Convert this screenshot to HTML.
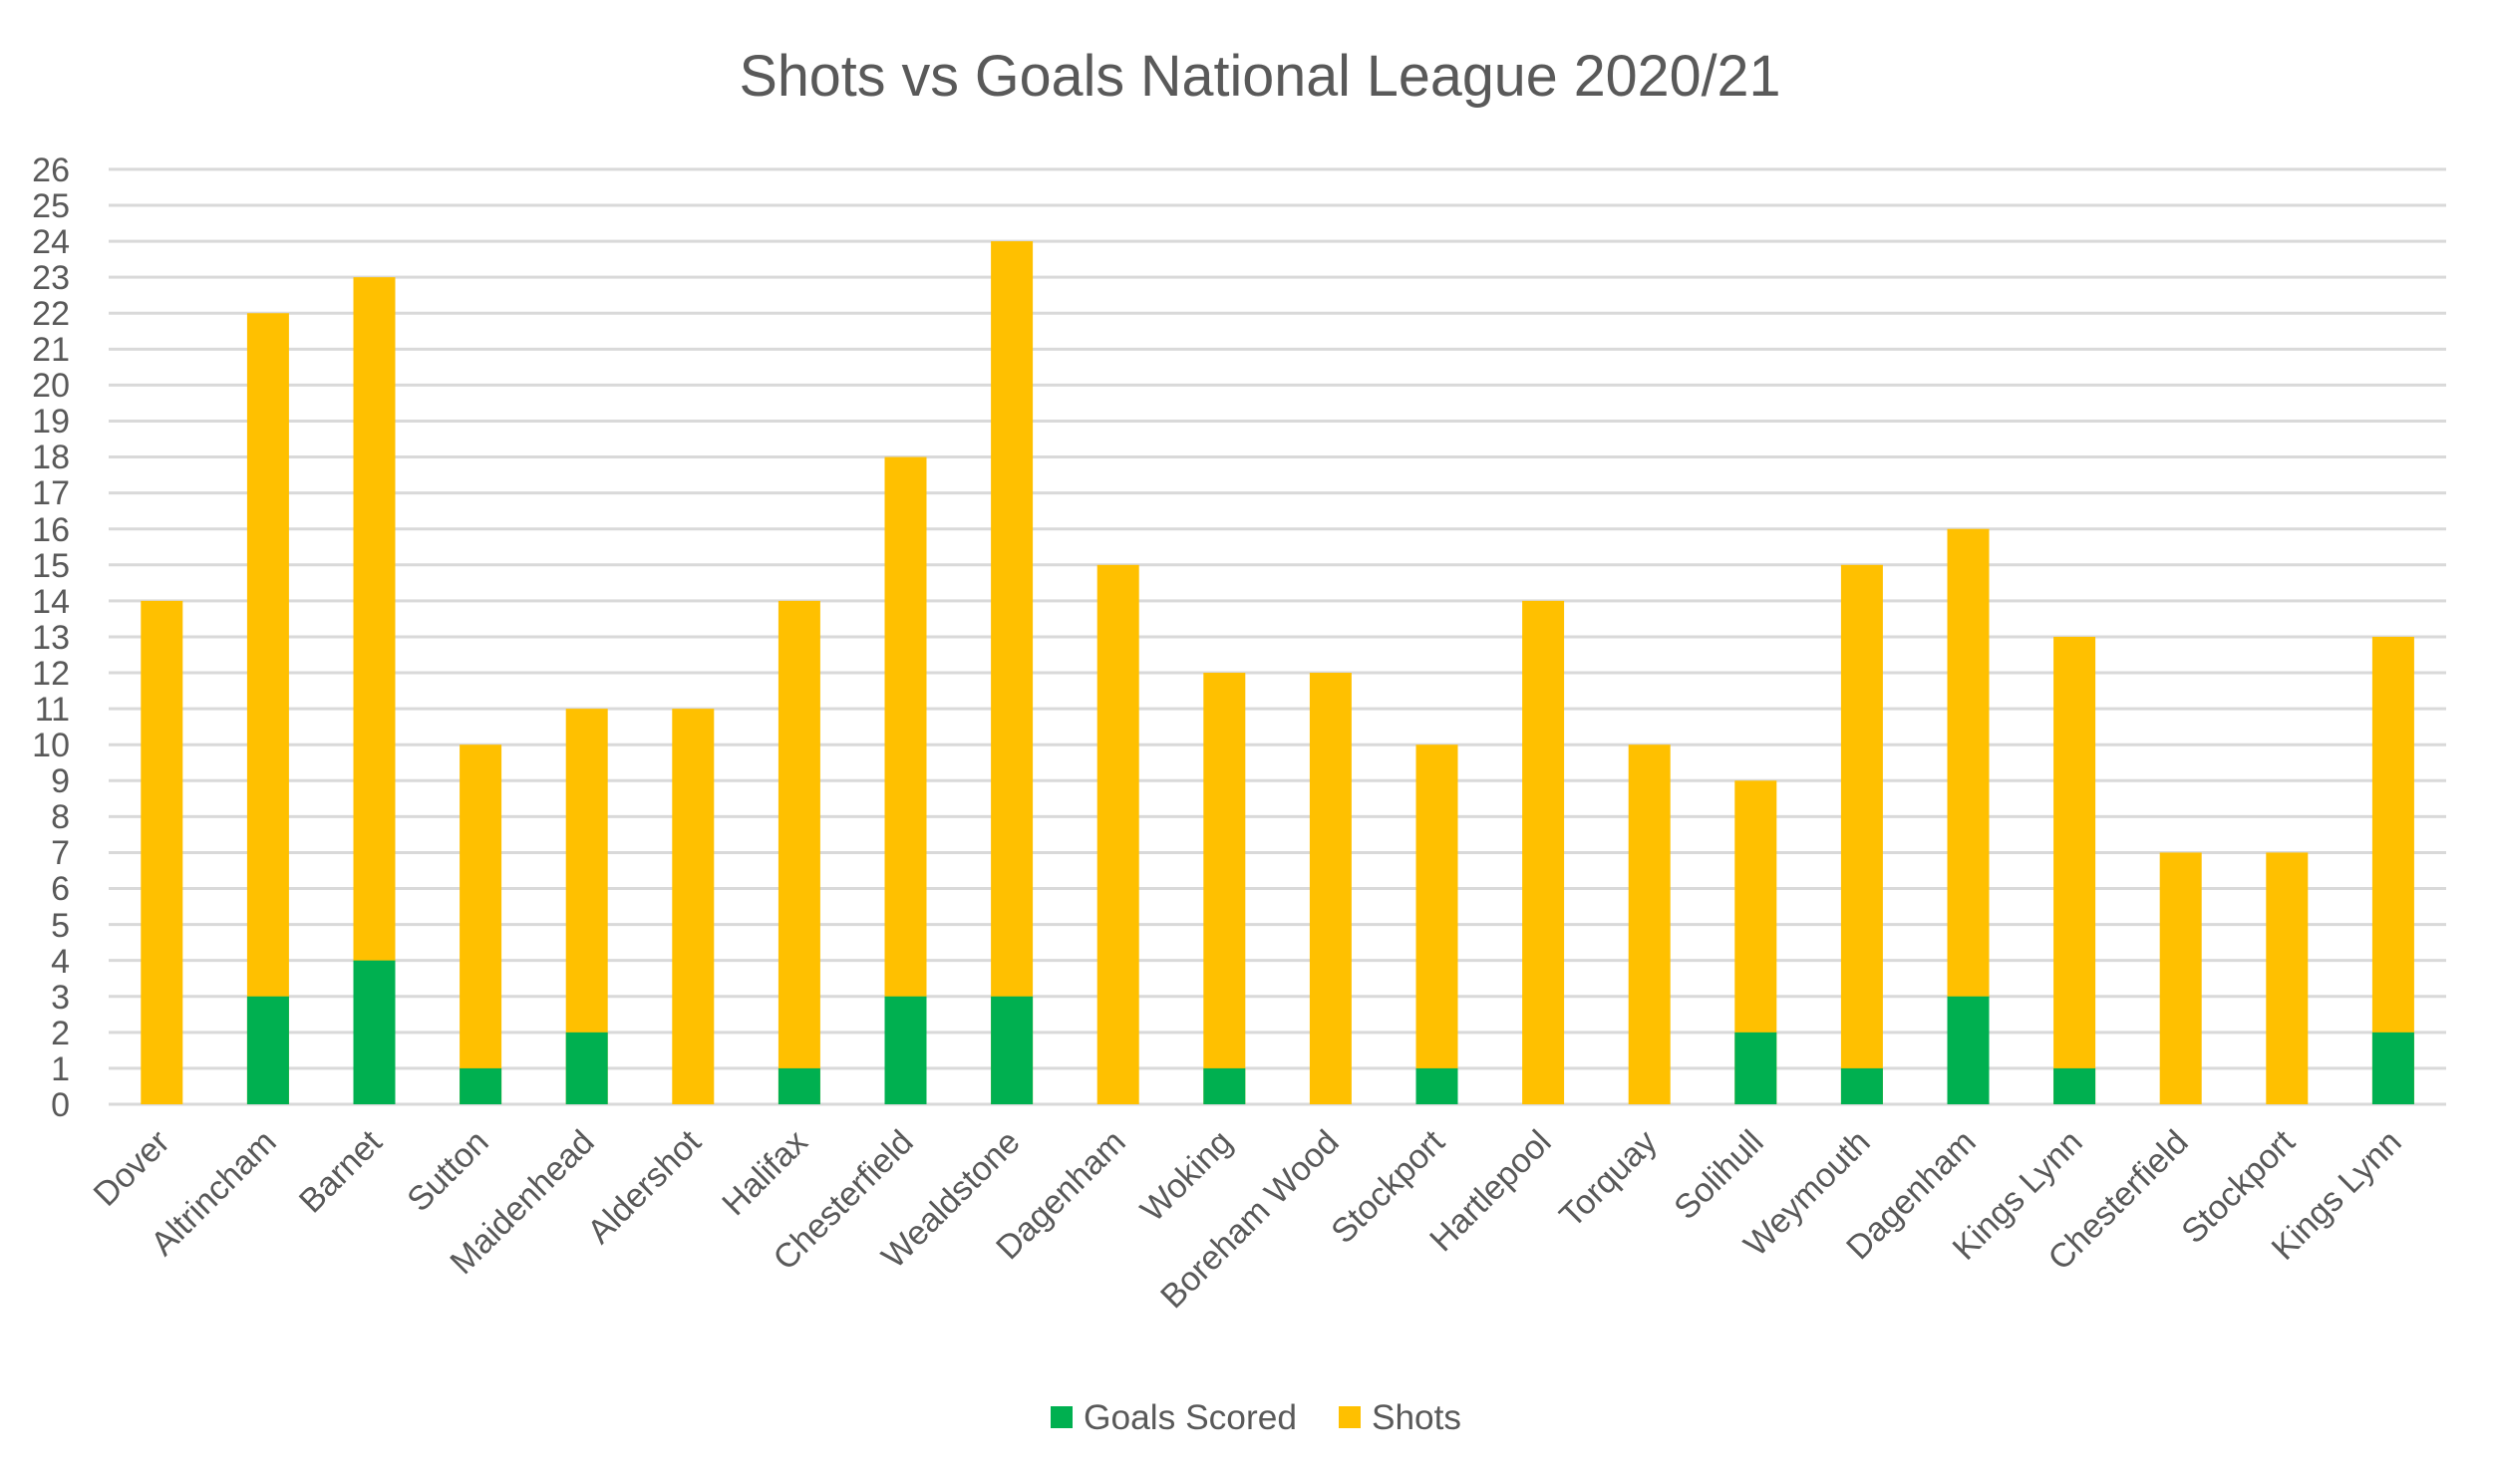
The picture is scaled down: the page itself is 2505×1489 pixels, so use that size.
<!DOCTYPE html>
<html><head><meta charset="utf-8"><style>
html,body{margin:0;padding:0;background:#fff;}
svg{display:block;font-family:"Liberation Sans",sans-serif;}
</style></head><body>
<svg width="2505" height="1489" viewBox="0 0 2505 1489" xmlns="http://www.w3.org/2000/svg">
<rect width="2505" height="1489" fill="#fff"/>
<text x="1264" y="96" text-anchor="middle" font-size="58" fill="#595959" textLength="1045" lengthAdjust="spacingAndGlyphs">Shots vs Goals National League 2020/21</text>
<g transform="translate(0,1108) scale(1,-36.08)" stroke="#d9d9d9" stroke-width="3">
<g vector-effect="non-scaling-stroke">
<line x1="109" x2="2454" y1="0" y2="0" vector-effect="non-scaling-stroke"/>
<line x1="109" x2="2454" y1="1" y2="1" vector-effect="non-scaling-stroke"/>
<line x1="109" x2="2454" y1="2" y2="2" vector-effect="non-scaling-stroke"/>
<line x1="109" x2="2454" y1="3" y2="3" vector-effect="non-scaling-stroke"/>
<line x1="109" x2="2454" y1="4" y2="4" vector-effect="non-scaling-stroke"/>
<line x1="109" x2="2454" y1="5" y2="5" vector-effect="non-scaling-stroke"/>
<line x1="109" x2="2454" y1="6" y2="6" vector-effect="non-scaling-stroke"/>
<line x1="109" x2="2454" y1="7" y2="7" vector-effect="non-scaling-stroke"/>
<line x1="109" x2="2454" y1="8" y2="8" vector-effect="non-scaling-stroke"/>
<line x1="109" x2="2454" y1="9" y2="9" vector-effect="non-scaling-stroke"/>
<line x1="109" x2="2454" y1="10" y2="10" vector-effect="non-scaling-stroke"/>
<line x1="109" x2="2454" y1="11" y2="11" vector-effect="non-scaling-stroke"/>
<line x1="109" x2="2454" y1="12" y2="12" vector-effect="non-scaling-stroke"/>
<line x1="109" x2="2454" y1="13" y2="13" vector-effect="non-scaling-stroke"/>
<line x1="109" x2="2454" y1="14" y2="14" vector-effect="non-scaling-stroke"/>
<line x1="109" x2="2454" y1="15" y2="15" vector-effect="non-scaling-stroke"/>
<line x1="109" x2="2454" y1="16" y2="16" vector-effect="non-scaling-stroke"/>
<line x1="109" x2="2454" y1="17" y2="17" vector-effect="non-scaling-stroke"/>
<line x1="109" x2="2454" y1="18" y2="18" vector-effect="non-scaling-stroke"/>
<line x1="109" x2="2454" y1="19" y2="19" vector-effect="non-scaling-stroke"/>
<line x1="109" x2="2454" y1="20" y2="20" vector-effect="non-scaling-stroke"/>
<line x1="109" x2="2454" y1="21" y2="21" vector-effect="non-scaling-stroke"/>
<line x1="109" x2="2454" y1="22" y2="22" vector-effect="non-scaling-stroke"/>
<line x1="109" x2="2454" y1="23" y2="23" vector-effect="non-scaling-stroke"/>
<line x1="109" x2="2454" y1="24" y2="24" vector-effect="non-scaling-stroke"/>
<line x1="109" x2="2454" y1="25" y2="25" vector-effect="non-scaling-stroke"/>
<line x1="109" x2="2454" y1="26" y2="26" vector-effect="non-scaling-stroke"/>
</g>
</g>
<g transform="translate(0,1108) scale(1,-36.08)" stroke="none">
<g fill="#ffc000">
<rect x="141.3" y="0" width="42" height="14"/>
<rect x="247.9" y="0" width="42" height="22"/>
<rect x="354.5" y="0" width="42" height="23"/>
<rect x="461.1" y="0" width="42" height="10"/>
<rect x="567.7" y="0" width="42" height="11"/>
<rect x="674.3" y="0" width="42" height="11"/>
<rect x="780.9" y="0" width="42" height="14"/>
<rect x="887.5" y="0" width="42" height="18"/>
<rect x="994.1" y="0" width="42" height="24"/>
<rect x="1100.7" y="0" width="42" height="15"/>
<rect x="1207.3" y="0" width="42" height="12"/>
<rect x="1313.9" y="0" width="42" height="12"/>
<rect x="1420.5" y="0" width="42" height="10"/>
<rect x="1527.1" y="0" width="42" height="14"/>
<rect x="1633.7" y="0" width="42" height="10"/>
<rect x="1740.3" y="0" width="42" height="9"/>
<rect x="1846.9" y="0" width="42" height="15"/>
<rect x="1953.5" y="0" width="42" height="16"/>
<rect x="2060.1" y="0" width="42" height="13"/>
<rect x="2166.7" y="0" width="42" height="7"/>
<rect x="2273.3" y="0" width="42" height="7"/>
<rect x="2379.9" y="0" width="42" height="13"/>
</g>
<g fill="#00b050">
<rect x="247.9" y="0" width="42" height="3"/>
<rect x="354.5" y="0" width="42" height="4"/>
<rect x="461.1" y="0" width="42" height="1"/>
<rect x="567.7" y="0" width="42" height="2"/>
<rect x="780.9" y="0" width="42" height="1"/>
<rect x="887.5" y="0" width="42" height="3"/>
<rect x="994.1" y="0" width="42" height="3"/>
<rect x="1207.3" y="0" width="42" height="1"/>
<rect x="1420.5" y="0" width="42" height="1"/>
<rect x="1740.3" y="0" width="42" height="2"/>
<rect x="1846.9" y="0" width="42" height="1"/>
<rect x="1953.5" y="0" width="42" height="3"/>
<rect x="2060.1" y="0" width="42" height="1"/>
<rect x="2379.9" y="0" width="42" height="2"/>
</g>
</g>
<g font-size="34" fill="#595959" text-anchor="end">
<text x="70" y="1120">0</text>
<text x="70" y="1084">1</text>
<text x="70" y="1048">2</text>
<text x="70" y="1012">3</text>
<text x="70" y="976">4</text>
<text x="70" y="940">5</text>
<text x="70" y="903">6</text>
<text x="70" y="867">7</text>
<text x="70" y="831">8</text>
<text x="70" y="795">9</text>
<text x="70" y="759">10</text>
<text x="70" y="723">11</text>
<text x="70" y="687">12</text>
<text x="70" y="651">13</text>
<text x="70" y="615">14</text>
<text x="70" y="579">15</text>
<text x="70" y="543">16</text>
<text x="70" y="506">17</text>
<text x="70" y="470">18</text>
<text x="70" y="434">19</text>
<text x="70" y="398">20</text>
<text x="70" y="362">21</text>
<text x="70" y="326">22</text>
<text x="70" y="290">23</text>
<text x="70" y="254">24</text>
<text x="70" y="218">25</text>
<text x="70" y="182">26</text>
</g>
<g font-size="34" fill="#595959" text-anchor="end">
<text transform="translate(172,1148) rotate(-45)">Dover</text>
<text transform="translate(279,1148) rotate(-45)">Altrincham</text>
<text transform="translate(385,1148) rotate(-45)">Barnet</text>
<text transform="translate(492,1148) rotate(-45)">Sutton</text>
<text transform="translate(598,1148) rotate(-45)">Maidenhead</text>
<text transform="translate(705,1148) rotate(-45)">Aldershot</text>
<text transform="translate(812,1148) rotate(-45)">Halifax</text>
<text transform="translate(918,1148) rotate(-45)">Chesterfield</text>
<text transform="translate(1025,1148) rotate(-45)">Wealdstone</text>
<text transform="translate(1131,1148) rotate(-45)">Dagenham</text>
<text transform="translate(1238,1148) rotate(-45)">Woking</text>
<text transform="translate(1345,1148) rotate(-45)">Boreham Wood</text>
<text transform="translate(1451,1148) rotate(-45)">Stockport</text>
<text transform="translate(1558,1148) rotate(-45)">Hartlepool</text>
<text transform="translate(1664,1148) rotate(-45)">Torquay</text>
<text transform="translate(1771,1148) rotate(-45)">Solihull</text>
<text transform="translate(1878,1148) rotate(-45)">Weymouth</text>
<text transform="translate(1984,1148) rotate(-45)">Dagenham</text>
<text transform="translate(2091,1148) rotate(-45)">Kings Lynn</text>
<text transform="translate(2197,1148) rotate(-45)">Chesterfield</text>
<text transform="translate(2304,1148) rotate(-45)">Stockport</text>
<text transform="translate(2411,1148) rotate(-45)">Kings Lynn</text>
</g>
<rect x="1054" y="1411" width="22" height="22" fill="#00b050"/>
<text x="1087" y="1434" font-size="35" fill="#595959" textLength="214" lengthAdjust="spacingAndGlyphs">Goals Scored</text>
<rect x="1343" y="1411" width="22" height="22" fill="#ffc000"/>
<text x="1376" y="1434" font-size="35" fill="#595959" textLength="90" lengthAdjust="spacingAndGlyphs">Shots</text>
</svg>
</body></html>
